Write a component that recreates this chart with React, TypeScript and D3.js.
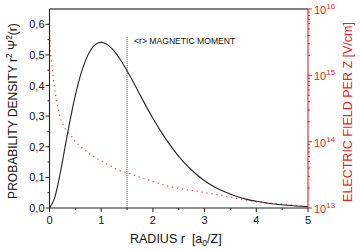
import React from "react";
import * as d3 from "d3";

// Probability density r^2 Psi^2(r)
const radiusDensity = [0, 0.1, 0.2, 0.3, 0.4, 0.5, 0.6, 0.7, 0.8, 0.9, 1.0, 1.1, 1.2, 1.3, 1.4, 1.5, 1.6, 1.7, 1.8, 1.9, 2.0, 2.2, 2.4, 2.6, 2.8, 3.0, 3.2, 3.4, 3.6, 3.8, 4.0, 4.3, 4.6, 5.0];
const densityValues = [0, 0.033, 0.107, 0.198, 0.288, 0.368, 0.434, 0.483, 0.517, 0.536, 0.541, 0.536, 0.522, 0.502, 0.477, 0.448, 0.418, 0.386, 0.354, 0.323, 0.293, 0.238, 0.19, 0.149, 0.116, 0.089, 0.068, 0.052, 0.039, 0.029, 0.022, 0.014, 0.009, 0.0045];

// Electric field per Z [V/cm]
const radiusField = [0.003, 0.01, 0.03, 0.055, 0.093, 0.14, 0.2, 0.3, 0.43, 0.55, 0.65, 0.75, 0.85, 0.94, 1.04, 1.14, 1.23, 1.34, 1.5, 1.6, 1.94, 2.33, 2.72, 3.26, 3.46, 3.78, 4.17, 4.49, 4.94];
const fieldValues = [4.8e15, 3.2e15, 1.9e15, 1.2e15, 6.8e14, 4.0e14, 2.4e14, 1.6e14, 1.17e14, 9.1e13, 7.9e13, 6.8e13, 6.0e13, 5.5e13, 4.9e13, 4.5e13, 4.1e13, 3.7e13, 3.4e13, 3.2e13, 2.6e13, 2.1e13, 1.86e13, 1.58e13, 1.48e13, 1.32e13, 1.2e13, 1.15e13, 1.05e13];

const xTicks = [0, 1, 2, 3, 4, 5];
const yTicks = [0, 0.1, 0.2, 0.3, 0.4, 0.5, 0.6];
const yTickLabels = ["0,0", "0,1", "0,2", "0,3", "0,4", "0,5", "0,6"];
const rightExponents = [13, 14, 15, 16];
const magneticMomentRadius = 1.5;

const W = 360, H = 250;
const L = 49.5, R = 308, T = 9, B = 208;
const RED = "#ee1c25";
const FONT = "'Liberation Sans', Arial, Helvetica, sans-serif";

export default function App() {
  const x = d3.scaleLinear().domain([0, 5]).range([L, R]);
  const y = d3.scaleLinear().domain([0, 0.65]).range([B, T]);
  const yr = d3.scaleLog().domain([1e13, 1e16]).range([B, T]);

  const density = d3.line<number>()
    .x((_, i) => x(radiusDensity[i]))
    .y((d) => y(d))
    .curve(d3.curveMonotoneX)(densityValues) as string;

  const field = d3.line<number>()
    .x((_, i) => x(radiusField[i]))
    .y((d) => yr(d))
    .curve(d3.curveMonotoneX)(fieldValues) as string;

  const xMinor = d3.range(0.5, 5, 1);
  const yMinor = d3.range(0.05, 0.65, 0.1);
  const logMinor: number[] = [];
  for (let e = 13; e < 16; e++) for (let m = 2; m <= 9; m++) logMinor.push(m * Math.pow(10, e));

  return (
    <svg width={W} height={H} style={{ position: "absolute", left: 0, top: 0, background: "#fff" }} fontFamily={FONT}>
      {/* frame */}
      <line x1={L} x2={R} y1={T} y2={T} stroke="#555" strokeWidth={1.3} />
      {/* curves */}
      <path d={field} fill="none" stroke={RED} strokeWidth={1.3} strokeDasharray="1.3,3.7" opacity={0.75} />
      <path d={density} fill="none" stroke="#222" strokeWidth={1.1} />
      {/* magnetic moment marker */}
      <line x1={x(magneticMomentRadius)} x2={x(magneticMomentRadius)} y1={37} y2={B} stroke="#444" strokeWidth={1} strokeDasharray="1,1" />
      <text x={x(magneticMomentRadius) + 7} y={44} fontSize={8.6} fill="#111">{"<r> MAGNETIC MOMENT"}</text>

      {/* left axis */}
      <line x1={L} x2={L} y1={T} y2={B} stroke="#222" strokeWidth={1.1} />
      {yTicks.map((t, i) => (
        <g key={"yt" + i}>
          <line x1={L - 4} x2={L} y1={y(t)} y2={y(t)} stroke="#222" />
          <text x={L - 5} y={y(t) + 4} fontSize={11} textAnchor="end" fill="#111">{yTickLabels[i]}</text>
        </g>
      ))}
      {yMinor.map((t, i) => (
        <line key={"ym" + i} x1={L - 2} x2={L} y1={y(t)} y2={y(t)} stroke="#222" />
      ))}

      {/* bottom axis */}
      <line x1={L} x2={R} y1={B} y2={B} stroke="#222" strokeWidth={1.1} />
      {xTicks.map((t) => (
        <g key={"xt" + t}>
          <line x1={x(t)} x2={x(t)} y1={B} y2={B + 4} stroke="#222" />
          <text x={x(t)} y={B + 16} fontSize={11} textAnchor="middle" fill="#111">{t}</text>
        </g>
      ))}
      {xMinor.map((t, i) => (
        <line key={"xm" + i} x1={x(t)} x2={x(t)} y1={B} y2={B + 2} stroke="#222" />
      ))}

      {/* right axis */}
      <line x1={R} x2={R} y1={T} y2={B} stroke={RED} strokeWidth={1.1} />
      {rightExponents.map((e) => (
        <g key={"re" + e}>
          <line x1={R} x2={R + 4} y1={yr(Math.pow(10, e))} y2={yr(Math.pow(10, e))} stroke={RED} />
          <text x={R + 6} y={yr(Math.pow(10, e)) + 5} fontSize={11} fill={RED}>
            10<tspan fontSize={8} dy={-5}>{e}</tspan>
          </text>
        </g>
      ))}
      {logMinor.map((v, i) => (
        <line key={"rm" + i} x1={R} x2={R + 2} y1={yr(v)} y2={yr(v)} stroke={RED} />
      ))}

      {/* axis titles */}
      <text x={130} y={243} fontSize={12.5} textAnchor="start" fill="#111">
        RADIUS r<tspan dx={7}>[a</tspan><tspan fontSize={8.5} dy={3}>0</tspan><tspan dy={-3}>/Z]</tspan>
      </text>
      <text transform={`translate(17,${111}) rotate(-90)`} fontSize={12} textAnchor="middle" fill="#111">
        PROBABILITY DENSITY r<tspan fontSize={8.5} dy={-5}>2</tspan><tspan dy={5}> Ψ</tspan><tspan fontSize={8.5} dy={-5}>2</tspan><tspan dy={5}>(r)</tspan>
      </text>
      <text transform={`translate(352,${112}) rotate(-90)`} fontSize={12.5} textAnchor="middle" fill={RED}>
        ELECTRIC FIELD PER Z [V/cm]
      </text>
    </svg>
  );
}
